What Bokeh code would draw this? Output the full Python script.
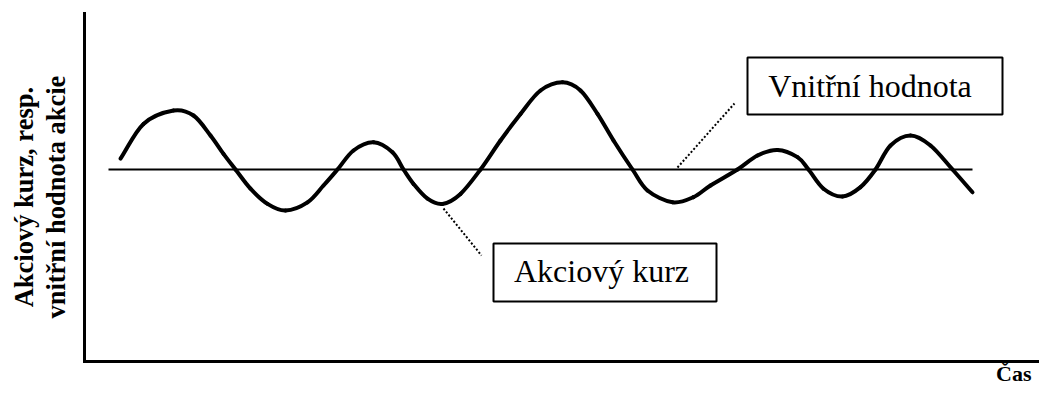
from math import pi
from bokeh.plotting import figure
from bokeh.models import Range1d, FixedTicker, Label
from bokeh.embed import file_html
from bokeh.resources import INLINE

# ---- data (schematic: time vs. value) ----
time_t = [3.6, 5.9, 8.9, 10.9, 12.6, 13.9, 15.1, 16.6, 18.3, 20.1,
          22.3, 23.9, 25.3, 26.9, 28.9, 30.8, 31.9, 32.9, 34.3, 35.8,
          37.6, 39.6, 41.6, 43.6, 45.6, 47.8, 49.6, 51.3, 52.9, 54.8,
          56.3, 58.8, 60.9, 62.6, 65.3, 67.3, 69.3, 71.3, 72.4, 73.9,
          75.8, 77.6, 79.1, 80.6, 82.6, 84.6, 86.8, 88.8]
price_v = [50.7, 59.4, 62.75, 61.5, 56.5, 51.9, 48, 43.2, 39.4, 37.75,
           39.8, 44, 48, 52.75, 54.8, 52.3, 48, 44.4, 40.7, 39.4,
           41.9, 48, 55.25, 61.9, 67.75, 69.8, 67.75, 61.9, 55.25, 48,
           42.75, 39.8, 41.1, 44, 48, 51.5, 52.9, 51.1, 48, 43.2,
           41.25, 43.6, 48, 54, 56.5, 54, 48, 42.3]
intrinsic_t = [2.4, 88.8]
intrinsic_v = [48, 48]

label_price = "Akciový kurz"
label_intrinsic = "Vnitřní hodnota"
ylabel_1 = "Akciový kurz, resp."
ylabel_2 = "vnitřní hodnota akcie"
xlabel = "Čas"

SERIF = "Liberation Serif"
T_END = 95.5
V_TOP = 87

p = figure(width=1039, height=382, x_range=Range1d(-8.4, T_END), y_range=Range1d(-5.25, 90.25),
           output_backend="svg", toolbar_location=None, tools="",
           min_border_left=0, min_border_right=0, min_border_top=0, min_border_bottom=0)
p.outline_line_color = None
p.grid.visible = False
p.background_fill_color = "white"
p.border_fill_color = "white"
for ax in (p.xaxis[0], p.yaxis[0]):
    ax.ticker = FixedTicker(ticks=[])
    ax.fixed_location = 0
    ax.axis_line_width = 3
    ax.axis_line_color = "black"
    ax.axis_line_cap = "square"
    ax.major_tick_line_color = None
    ax.minor_tick_line_color = None
    ax.major_label_text_font_size = "0px"
    ax.major_tick_out = 0
    ax.major_tick_in = 0
    ax.minor_tick_out = 0
    ax.minor_tick_in = 0
p.xaxis[0].bounds = (0, T_END)
p.yaxis[0].bounds = (0, V_TOP)

# intrinsic value line
p.line(intrinsic_t, intrinsic_v, line_color="black", line_width=2)

# share price curve drawn as smooth Bezier segments through the read points
n = len(time_t)
def tangent(i):
    if i == 0:
        return time_t[1] - time_t[0], price_v[1] - price_v[0]
    if i == n - 1:
        return time_t[-1] - time_t[-2], price_v[-1] - price_v[-2]
    return (time_t[i + 1] - time_t[i - 1]) / 2, (price_v[i + 1] - price_v[i - 1]) / 2
tans = [tangent(i) for i in range(n)]
seg = dict(x0=[], y0=[], x1=[], y1=[], cx0=[], cy0=[], cx1=[], cy1=[])
for i in range(n - 1):
    seg["x0"].append(time_t[i]); seg["y0"].append(price_v[i])
    seg["x1"].append(time_t[i + 1]); seg["y1"].append(price_v[i + 1])
    seg["cx0"].append(time_t[i] + tans[i][0] / 3); seg["cy0"].append(price_v[i] + tans[i][1] / 3)
    seg["cx1"].append(time_t[i + 1] - tans[i + 1][0] / 3); seg["cy1"].append(price_v[i + 1] - tans[i + 1][1] / 3)
p.bezier(line_color="black", line_width=4, line_cap="round", **seg)

# labelled boxes
p.quad(left=[66.3], right=[91.8], top=[76], bottom=[61.75],
       fill_color="white", line_color="black", line_width=2)
p.quad(left=[40.9], right=[63.2], top=[29.5], bottom=[15],
       fill_color="white", line_color="black", line_width=2)

# dotted leader lines
p.line([59.3, 65.0], [48.5, 64.5], line_color="black", line_width=2, line_dash="2 2")
p.line([35.9, 39.7], [38.25, 26.5], line_color="black", line_width=2, line_dash="2 2")

p.add_layout(Label(x=78.55, y=69, text=label_intrinsic, text_align="center",
                   text_baseline="alphabetic", text_font=SERIF, text_font_size="32px",
                   text_color="black"))
p.add_layout(Label(x=51.7, y=22.6, text=label_price, text_align="center",
                   text_baseline="alphabetic", text_font=SERIF, text_font_size="32px",
                   text_color="black"))

# axis titles
p.add_layout(Label(x=-6.07, y=41.1, text=ylabel_1, angle=pi / 2, text_align="center",
                   text_baseline="alphabetic", text_font=SERIF, text_font_size="26.5px",
                   text_font_style="bold", text_color="black"))
p.add_layout(Label(x=-2.9, y=41.1, text=ylabel_2, angle=pi / 2, text_align="center",
                   text_baseline="alphabetic", text_font=SERIF, text_font_size="26.5px",
                   text_font_style="bold", text_color="black"))
p.add_layout(Label(x=94.7, y=-3.03, text=xlabel, text_align="right",
                   text_baseline="alphabetic", text_font=SERIF, text_font_size="22px",
                   text_font_style="bold", text_color="black"))

open("out.html", "w").write(file_html(p, INLINE))
